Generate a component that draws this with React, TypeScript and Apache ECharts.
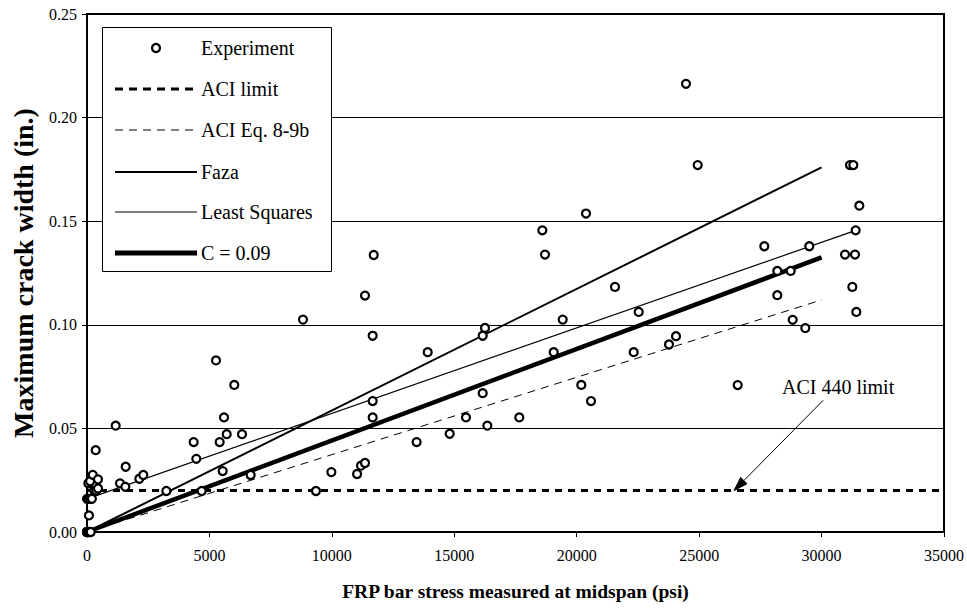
import React, { useEffect, useRef } from "react";
import * as echarts from "echarts";

const FONT = "Liberation Serif";

// ---- data ----
const xTickInterval = 5000;
const xMax = 35000;
const yTickInterval = 0.05;
const yMax = 0.25;

const experimentPoints: [number, number][] = [
  [0, 0], [0, 0], [0, 0], [40, 0], [80, 0], [150, 0],
  [0, 0.016], [60, 0.016], [120, 0.016], [200, 0.016],
  [80, 0.008],
  [53, 0.0235], [126, 0.0245],
  [233, 0.0276], [449, 0.0254],
  [300, 0.02], [380, 0.02], [450, 0.021],
  [355, 0.0395],
  [1171, 0.0513],
  [1348, 0.0235], [1565, 0.0218], [1580, 0.0315],
  [2137, 0.0257], [2300, 0.0275],
  [3240, 0.0198],
  [4356, 0.0434], [4465, 0.0353], [4683, 0.0198],
  [5268, 0.0828], [5418, 0.0434], [5541, 0.0294], [5595, 0.0553], [5705, 0.0472],
  [6016, 0.071], [6330, 0.0472], [6684, 0.0275],
  [8821, 0.1025], [9350, 0.0198], [9980, 0.0289],
  [11030, 0.028], [11190, 0.032], [11354, 0.0333],
  [11354, 0.1141], [11667, 0.0947], [11667, 0.0632], [11667, 0.0553], [11709, 0.1337],
  [13461, 0.0434], [13914, 0.0868],
  [14813, 0.0474], [15478, 0.0553],
  [16160, 0.0947], [16160, 0.067], [16254, 0.0985], [16350, 0.0513],
  [17655, 0.0553],
  [18596, 0.1456], [18705, 0.1339],
  [19060, 0.0868], [19428, 0.1025],
  [20188, 0.071], [20380, 0.1537], [20584, 0.0632],
  [21563, 0.1183],
  [22327, 0.0868], [22531, 0.1062],
  [23769, 0.0905], [24055, 0.0945],
  [24463, 0.2163], [24940, 0.1771],
  [26575, 0.0709],
  [27661, 0.1379],
  [28192, 0.126], [28192, 0.1143], [28738, 0.126], [28820, 0.1024],
  [29336, 0.0984], [29499, 0.1379],
  [30957, 0.1339], [31161, 0.1771], [31256, 0.1183], [31297, 0.1771],
  [31365, 0.1339], [31392, 0.1456], [31419, 0.1062], [31542, 0.1575],
];

const aciLimit: [number, number][] = [[0, 0.02], [35000, 0.02]];
const aciEq89b: [number, number][] = [[0, 0], [30000, 0.112]];
const faza: [number, number][] = [[0, 0], [30000, 0.176]];
const leastSquares: [number, number][] = [[0, 0.016], [31400, 0.1456]];
const cEquals009: [number, number][] = [[0, 0], [30000, 0.1325]];

const seriesNames = ["Experiment", "ACI limit", "ACI Eq. 8-9b", "Faza", "Least Squares", "C = 0.09"];

const xAxisTitle = "FRP bar stress measured at midspan (psi)";
const yAxisTitle = "Maximum crack width (in.)";

const annotationText = "ACI 440 limit";
const annotationAnchor: [number, number] = [28384, 0.0701];
const arrowStart: [number, number] = [30070, 0.0636];
const arrowEnd: [number, number] = [26424, 0.02];

export default function App() {
  const ref = useRef<HTMLDivElement>(null);

  useEffect(() => {
    if (!ref.current) return;
    const chart = echarts.init(ref.current, null, { renderer: "svg" });

    const lineSeries = (name: string, data: [number, number][], width: number, type: any) => ({
      name,
      type: "line",
      data,
      showSymbol: false,
      symbol: "none",
      silent: true,
      z: 2,
      lineStyle: { color: "#000", width, type },
    });

    chart.setOption({
      animation: false,
      backgroundColor: "#fff",
      textStyle: { fontFamily: FONT },
      grid: {
        left: 87,
        top: 14,
        width: 857,
        height: 518,
        show: true,
        borderColor: "#000",
        borderWidth: 2,
        backgroundColor: "#fff",
      },
      xAxis: {
        type: "value",
        min: 0,
        max: xMax,
        interval: xTickInterval,
        axisLine: { show: true, onZero: false, lineStyle: { color: "#000", width: 2 } },
        axisTick: { show: true, inside: false, length: 5, lineStyle: { color: "#000", width: 1 } },
        axisLabel: {
          fontSize: 16,
          fontFamily: FONT,
          color: "#000",
          margin: 15,
          formatter: (v: number) => String(v),
        },
        splitLine: { show: false },
        name: xAxisTitle,
        nameLocation: "middle",
        nameGap: 49,
        nameTextStyle: { fontSize: 19.5, fontWeight: "bold", fontFamily: FONT, color: "#000" },
      },
      yAxis: {
        type: "value",
        min: 0,
        max: yMax,
        interval: yTickInterval,
        axisLine: { show: true, onZero: false, lineStyle: { color: "#000", width: 2 } },
        axisTick: { show: true, inside: false, length: 5, lineStyle: { color: "#000", width: 1 } },
        axisLabel: {
          fontSize: 16,
          fontFamily: FONT,
          color: "#000",
          margin: 10,
          formatter: (v: number) => v.toFixed(2),
        },
        splitLine: { show: true, lineStyle: { color: "#000", width: 1 } },
        name: yAxisTitle,
        nameLocation: "middle",
        nameGap: 50,
        nameTextStyle: { fontSize: 28, fontWeight: "bold", fontFamily: FONT, color: "#000" },
      },
      series: [
        lineSeries(seriesNames[1], aciLimit, 3, [7, 6]),
        lineSeries(seriesNames[2], aciEq89b, 1, [8, 6]),
        lineSeries(seriesNames[3], faza, 2, "solid"),
        lineSeries(seriesNames[4], leastSquares, 1.2, "solid"),
        lineSeries(seriesNames[5], cEquals009, 4.5, "solid"),
        {
          name: seriesNames[0],
          type: "scatter",
          data: experimentPoints,
          symbol: "circle",
          symbolSize: 8,
          z: 4,
          silent: true,
          itemStyle: { color: "#fff", borderColor: "#000", borderWidth: 2.2, opacity: 1 },
        },
      ],
    });

    // legend (drawn as graphics) and annotation
    const lx0 = 115;
    const lx1 = 197;
    const tx = 201;
    const rows = [48, 89, 130, 172, 212, 253];
    const legendChildren: any[] = [
      {
        type: "rect",
        shape: { x: 102.5, y: 27.5, width: 229, height: 244 },
        style: { fill: "#fff", stroke: "#000", lineWidth: 1 },
      },
      {
        type: "circle",
        shape: { cx: (lx0 + lx1) / 2, cy: rows[0], r: 4 },
        style: { fill: "#fff", stroke: "#000", lineWidth: 2.2 },
      },
      {
        type: "line",
        shape: { x1: lx0, y1: rows[1], x2: lx1, y2: rows[1] },
        style: { stroke: "#000", lineWidth: 3, lineDash: [8, 6] },
      },
      {
        type: "line",
        shape: { x1: lx0, y1: rows[2], x2: lx1, y2: rows[2] },
        style: { stroke: "#000", lineWidth: 1, lineDash: [8, 6] },
      },
      {
        type: "line",
        shape: { x1: lx0, y1: rows[3], x2: lx1, y2: rows[3] },
        style: { stroke: "#000", lineWidth: 2 },
      },
      {
        type: "line",
        shape: { x1: lx0, y1: rows[4], x2: lx1, y2: rows[4] },
        style: { stroke: "#000", lineWidth: 1 },
      },
      {
        type: "line",
        shape: { x1: lx0, y1: rows[5], x2: lx1, y2: rows[5] },
        style: { stroke: "#000", lineWidth: 5 },
      },
    ];
    seriesNames.forEach((n, i) => {
      legendChildren.push({
        type: "text",
        x: tx,
        y: rows[i],
        style: {
          text: n,
          fontSize: 20,
          fontFamily: FONT,
          fill: "#000",
          align: "left",
          verticalAlign: "middle",
        },
      });
    });

    const toPx = (p: [number, number]) => chart.convertToPixel({ gridIndex: 0 }, p) as number[];
    const a = toPx(annotationAnchor);
    const s = toPx(arrowStart);
    const t = toPx(arrowEnd);
    const dx = t[0] - s[0];
    const dy = t[1] - s[1];
    const len = Math.sqrt(dx * dx + dy * dy);
    const ux = dx / len;
    const uy = dy / len;
    const headLen = 14;
    const headHalf = 4.5;
    const bx = t[0] - ux * headLen;
    const by = t[1] - uy * headLen;
    const nx = -uy;
    const ny = ux;

    chart.setOption({
      graphic: [
        { type: "group", z: 100, children: legendChildren },
        {
          type: "text",
          z: 100,
          x: a[0],
          y: a[1],
          style: {
            text: annotationText,
            fontSize: 20,
            fontFamily: FONT,
            fill: "#000",
            align: "left",
            verticalAlign: "middle",
          },
        },
        {
          type: "line",
          z: 100,
          shape: { x1: s[0], y1: s[1], x2: bx, y2: by },
          style: { stroke: "#000", lineWidth: 1 },
        },
        {
          type: "polygon",
          z: 100,
          shape: {
            points: [
              [t[0], t[1]],
              [bx + nx * headHalf, by + ny * headHalf],
              [bx - nx * headHalf, by - ny * headHalf],
            ],
          },
          style: { fill: "#000", stroke: "#000", lineWidth: 1 },
        },
      ],
    });

    return () => {
      chart.dispose();
    };
  }, []);

  return (
    <div
      ref={ref}
      style={{ position: "absolute", left: 0, top: 0, width: 967, height: 609, background: "#fff" }}
    />
  );
}
